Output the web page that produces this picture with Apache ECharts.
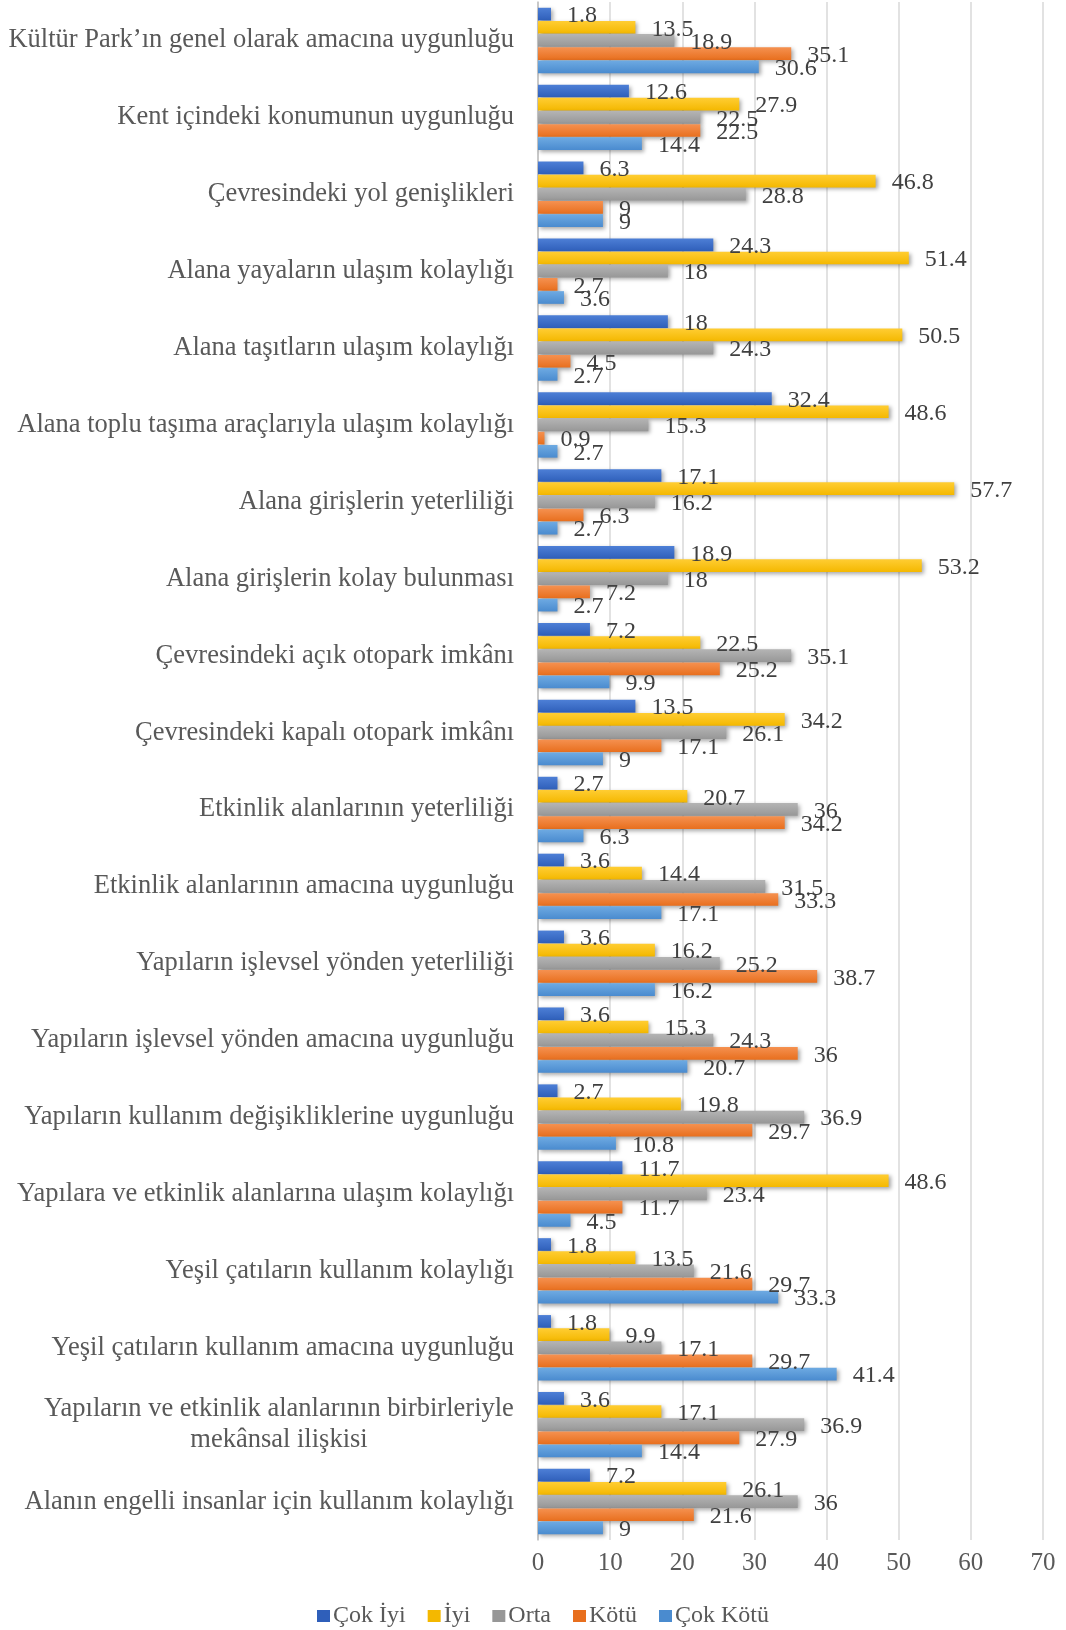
<!DOCTYPE html>
<html>
<head>
<meta charset="utf-8">
<script src="https://cdn.jsdelivr.net/npm/echarts@6/dist/echarts.min.js"></script>
<style>
  html, body { margin: 0; padding: 0; background: #ffffff; }
  #chart { width: 1066px; height: 1630px; }
</style>
</head>
<body>
<div id="chart"></div>
<script>
// Survey items (top to bottom)
const categories = [
  "Kültür Park’ın genel olarak amacına uygunluğu",
  "Kent içindeki konumunun uygunluğu",
  "Çevresindeki yol genişlikleri",
  "Alana yayaların ulaşım kolaylığı",
  "Alana taşıtların ulaşım kolaylığı",
  "Alana toplu taşıma araçlarıyla ulaşım kolaylığı",
  "Alana girişlerin yeterliliği",
  "Alana girişlerin kolay bulunması",
  "Çevresindeki açık otopark imkânı",
  "Çevresindeki kapalı otopark imkânı",
  "Etkinlik alanlarının yeterliliği",
  "Etkinlik alanlarının amacına uygunluğu",
  "Yapıların işlevsel yönden yeterliliği",
  "Yapıların işlevsel yönden amacına uygunluğu",
  "Yapıların kullanım değişikliklerine uygunluğu",
  "Yapılara ve etkinlik alanlarına ulaşım kolaylığı",
  "Yeşil çatıların kullanım kolaylığı",
  "Yeşil çatıların kullanım amacına uygunluğu",
  "Yapıların ve etkinlik alanlarının birbirleriyle\nmekânsal ilişkisi",
  "Alanın engelli insanlar için kullanım kolaylığı"
];

const seriesNames = ["Çok İyi", "İyi", "Orta", "Kötü", "Çok Kötü"];

// Percentages per rating
const cokIyi   = [1.8, 12.6, 6.3, 24.3, 18, 32.4, 17.1, 18.9, 7.2, 13.5, 2.7, 3.6, 3.6, 3.6, 2.7, 11.7, 1.8, 1.8, 3.6, 7.2];
const iyi      = [13.5, 27.9, 46.8, 51.4, 50.5, 48.6, 57.7, 53.2, 22.5, 34.2, 20.7, 14.4, 16.2, 15.3, 19.8, 48.6, 13.5, 9.9, 17.1, 26.1];
const orta     = [18.9, 22.5, 28.8, 18, 24.3, 15.3, 16.2, 18, 35.1, 26.1, 36, 31.5, 25.2, 24.3, 36.9, 23.4, 21.6, 17.1, 36.9, 36];
const kotu     = [35.1, 22.5, 9, 2.7, 4.5, 0.9, 6.3, 7.2, 25.2, 17.1, 34.2, 33.3, 38.7, 36, 29.7, 11.7, 29.7, 29.7, 27.9, 21.6];
const cokKotu  = [30.6, 14.4, 9, 3.6, 2.7, 2.7, 2.7, 2.7, 9.9, 9, 6.3, 17.1, 16.2, 20.7, 10.8, 4.5, 33.3, 41.4, 14.4, 9];

const xTicks = { min: 0, max: 70, interval: 10 };

// Gradient fills, lighter on top
const fills = [
  ["#4d7fd6", "#2f5fba"],
  ["#ffcd33", "#f4b800"],
  ["#b4b4b4", "#979797"],
  ["#f59150", "#e86f1e"],
  ["#6eaae2", "#4a8bcf"]
];

const serif = "'Liberation Serif', 'Times New Roman', serif";
const catFontSize = 26.5;

function grad(c) {
  return new echarts.graphic.LinearGradient(0, 0, 0, 1, [
    { offset: 0, color: c[0] },
    { offset: 1, color: c[1] }
  ]);
}

// Width of the widest line of a wrapped category label, so its lines can be centred
function widestLine(text) {
  const ctx = document.createElement("canvas").getContext("2d");
  ctx.font = catFontSize + "px 'Liberation Serif'";
  return Math.ceil(Math.max.apply(null, text.split("\n").map(s => ctx.measureText(s).width)));
}
const wrapped = categories.find(c => c.indexOf("\n") >= 0);
const wrapWidth = wrapped ? widestLine(wrapped) : 0;

const values = [cokIyi, iyi, orta, kotu, cokKotu];

const series = seriesNames.map((name, i) => ({
  name: name,
  type: "bar",
  data: values[i],
  barCategoryGap: "15%",
  barGap: "4%",
  itemStyle: {
    color: grad(fills[i]),
    shadowColor: "rgba(0,0,0,0.35)",
    shadowBlur: 4,
    shadowOffsetX: 2,
    shadowOffsetY: 2
  },
  label: {
    show: true,
    position: "right",
    distance: 16,
    color: "#404040",
    fontFamily: serif,
    fontSize: 24,
    offset: [0, 2]
  },
  emphasis: { disabled: true }
}));

const chart = echarts.init(document.getElementById("chart"), null, { renderer: "canvas" });

chart.setOption({
  animation: false,
  backgroundColor: "#ffffff",
  grid: { left: 538, right: 23, top: 2, bottom: 90, containLabel: false },
  legend: {
    data: seriesNames.map((n, i) => ({ name: n, itemStyle: { color: fills[i][1] } })),
    left: 312,
    top: 1599,
    itemWidth: 13,
    itemHeight: 12,
    itemGap: 22,
    icon: "rect",
    textStyle: { fontFamily: serif, fontSize: 24, color: "#595959", padding: [0, 0, 0, -2] }
  },
  xAxis: {
    type: "value",
    min: xTicks.min,
    max: xTicks.max,
    interval: xTicks.interval,
    axisLine: { show: false },
    axisTick: { show: false },
    splitLine: { show: true, lineStyle: { color: "#d9d9d9", width: 1.5 } },
    axisLabel: { fontFamily: serif, fontSize: 25, color: "#595959", margin: 11 }
  },
  yAxis: {
    type: "category",
    inverse: true,
    data: categories,
    axisLine: { show: true, lineStyle: { color: "#bfbfbf", width: 1.5 } },
    axisTick: { show: false },
    axisLabel: {
      fontFamily: serif,
      fontSize: catFontSize,
      color: "#595959",
      margin: 24,
      lineHeight: 31,
      formatter: function (v) {
        if (v.indexOf("\n") >= 0) {
          return v.split("\n").map(s => "{m|" + s + "}").join("\n");
        }
        return v;
      },
      rich: {
        m: { width: wrapWidth, align: "center", fontFamily: serif, fontSize: catFontSize, color: "#595959", lineHeight: 31 }
      }
    }
  },
  series: series
});
</script>
</body>
</html>
